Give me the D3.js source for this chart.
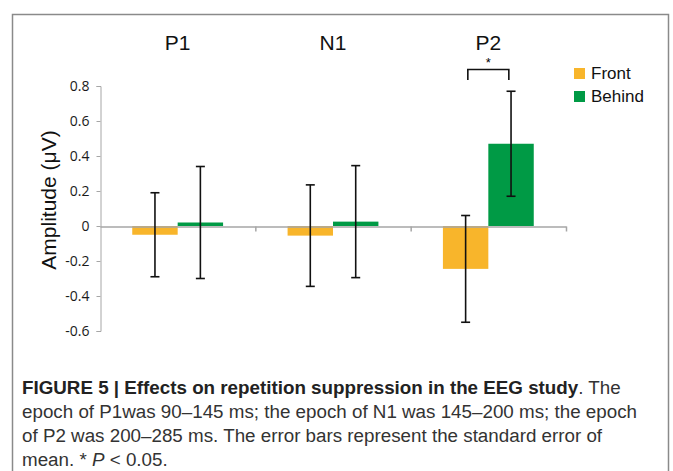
<!DOCTYPE html>
<html>
<head>
<meta charset="utf-8">
<script src="https://cdn.jsdelivr.net/npm/d3@7"></script>
<style>
  body { margin: 0; background: #fff; }
  svg { display: block; }
</style>
</head>
<body>
<div id="chart"></div>
<script>
// data
var categories = ["P1", "N1", "P2"];
var seriesNames = ["Front", "Behind"];
var frontMean = [-0.05, -0.055, -0.245];
var behindMean = [0.02, 0.025, 0.47];
var frontSE = [0.24, 0.29, 0.305];
var behindSE = [0.32, 0.32, 0.30];
var yTicks = [-0.6, -0.4, -0.2, 0, 0.2, 0.4, 0.6, 0.8];
var captionLines = [
  [{ t: "FIGURE 5 | Effects on repetition suppression in the EEG study", b: true }, { t: ". The" }],
  [{ t: "epoch of P1was 90–145 ms; the epoch of N1 was 145–200 ms; the epoch" }],
  [{ t: "of P2 was 200–285 ms. The error bars represent the standard error of" }],
  [{ t: "mean. * " }, { t: "P", i: true }, { t: " < 0.05." }]
];

var colors = { Front: "#f8b52b", Behind: "#009a45" };

var W = 673, H = 471;
var svg = d3.select("#chart").append("svg")
  .attr("width", W)
  .attr("height", H);

svg.append("rect").attr("width", W).attr("height", H).attr("fill", "#fff");

// frame around the figure
svg.append("rect")
  .attr("x", 12.5).attr("y", 14.5)
  .attr("width", 656).attr("height", 480)
  .attr("fill", "none")
  .attr("stroke", "#8a8a8a")
  .attr("stroke-width", 1.5);

var x0 = d3.scaleBand().domain(categories).range([100, 566]);
var x1 = d3.scaleBand().domain(seriesNames).range([0, x0.bandwidth()]).paddingOuter(0.71);
var y = d3.scaleLinear().domain([-0.6, 0.8]).range([331, 86]);

var rows = categories.map(function (c, i) {
  return [
    { cat: c, s: "Front", v: frontMean[i], e: frontSE[i] },
    { cat: c, s: "Behind", v: behindMean[i], e: behindSE[i] }
  ];
});
var flat = [].concat.apply([], rows);

// bars
svg.append("g").selectAll("rect")
  .data(flat)
  .enter()
  .append("rect")
  .attr("x", function (d) { return x0(d.cat) + x1(d.s); })
  .attr("width", x1.bandwidth())
  .attr("y", function (d) { return y(Math.max(0, d.v)); })
  .attr("height", function (d) { return Math.abs(y(d.v) - y(0)); })
  .attr("fill", function (d) { return colors[d.s]; });

// y axis
var yAxis = svg.append("g")
  .attr("transform", "translate(100.5,0)")
  .call(d3.axisLeft(y).tickValues(yTicks).tickSize(4).tickPadding(7)
    .tickFormat(function (d) { return d === 0 ? "0" : d.toFixed(1); }));
yAxis.select(".domain").attr("stroke", "#a6a6a6");
yAxis.selectAll(".tick line").attr("stroke", "#a6a6a6");
yAxis.selectAll("text")
  .attr("fill", "#1a1a1a")
  .style("font-family", "'Open Sans', sans-serif")
  .style("font-size", "14px");

// x axis along zero
var xb = d3.scaleLinear().domain([0, 3]).range([100, 566]);
var xAxis = svg.append("g")
  .attr("transform", "translate(0," + (y(0) + 0.5) + ")")
  .call(d3.axisBottom(xb).tickValues([1, 2, 3]).tickSize(5).tickSizeOuter(0).tickFormat(""));
xAxis.select(".domain").attr("stroke", "#a6a6a6").attr("stroke-width", 1.5);
xAxis.selectAll(".tick line").attr("stroke", "#a6a6a6").attr("stroke-width", 1.5);

// error bars
var cap = 4.5;
var eb = svg.append("g").selectAll("g")
  .data(flat)
  .enter()
  .append("g")
  .attr("stroke", "#111")
  .attr("stroke-width", 1.6);
function cx(d) { return x0(d.cat) + x1(d.s) + x1.bandwidth() / 2; }
eb.append("line")
  .attr("x1", cx).attr("x2", cx)
  .attr("y1", function (d) { return y(d.v + d.e); })
  .attr("y2", function (d) { return y(d.v - d.e); });
eb.append("line")
  .attr("x1", function (d) { return cx(d) - cap; })
  .attr("x2", function (d) { return cx(d) + cap; })
  .attr("y1", function (d) { return y(d.v + d.e); })
  .attr("y2", function (d) { return y(d.v + d.e); });
eb.append("line")
  .attr("x1", function (d) { return cx(d) - cap; })
  .attr("x2", function (d) { return cx(d) + cap; })
  .attr("y1", function (d) { return y(d.v - d.e); })
  .attr("y2", function (d) { return y(d.v - d.e); });

// category labels on top
svg.append("g").selectAll("text")
  .data(categories)
  .enter()
  .append("text")
  .attr("x", function (d) { return x0(d) + x0.bandwidth() / 2; })
  .attr("y", 50)
  .attr("text-anchor", "middle")
  .style("font-family", "'Liberation Sans', Arial, sans-serif")
  .style("font-size", "21px")
  .attr("fill", "#111")
  .text(function (d) { return d; });

// significance bracket over P2
var pc = x0("P2") + x0.bandwidth() / 2;
svg.append("path")
  .attr("d", "M" + (pc - 20.5) + ",80V69.5H" + (pc + 20.5) + "V80")
  .attr("fill", "none")
  .attr("stroke", "#111")
  .attr("stroke-width", 1.6);
svg.append("text")
  .attr("x", pc)
  .attr("y", 67)
  .attr("text-anchor", "middle")
  .style("font-family", "'Liberation Sans', Arial, sans-serif")
  .style("font-size", "13px")
  .text("*");

// legend
var lg = svg.append("g").selectAll("g")
  .data(seriesNames)
  .enter()
  .append("g")
  .attr("transform", function (d, i) { return "translate(574," + (68 + i * 23) + ")"; });
lg.append("rect")
  .attr("width", 11).attr("height", 11)
  .attr("fill", function (d) { return colors[d]; });
lg.append("text")
  .attr("x", 17).attr("y", 11)
  .style("font-family", "'Liberation Sans', Arial, sans-serif")
  .style("font-size", "17px")
  .attr("fill", "#111")
  .text(function (d) { return d; });

// y axis title
svg.append("text")
  .attr("transform", "translate(56,200) rotate(-90)")
  .attr("text-anchor", "middle")
  .style("font-family", "'Liberation Sans', Arial, sans-serif")
  .style("font-size", "21px")
  .attr("fill", "#111")
  .text("Amplitude (μV)");

// caption
var cap0 = svg.append("g").attr("transform", "translate(22,0)");
captionLines.forEach(function (line, i) {
  var t = cap0.append("text")
    .attr("x", 0)
    .attr("y", 394 + i * 24)
    .style("font-family", "'Liberation Sans Narrow', 'Liberation Sans', sans-serif")
    .style("font-size", "18.8px")
    .attr("fill", "#333");
  line.forEach(function (p) {
    var ts = t.append("tspan").text(p.t);
    if (p.b) ts.style("font-weight", "bold").attr("fill", "#222");
    if (p.i) ts.style("font-style", "italic");
  });
});
</script>
</body>
</html>
